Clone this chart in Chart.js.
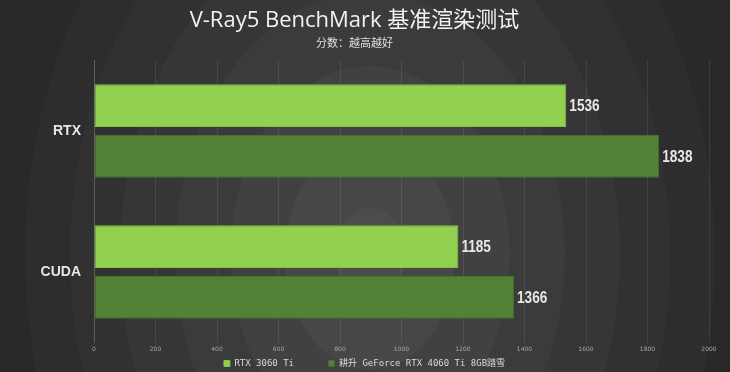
<!DOCTYPE html>
<html>
<head>
<meta charset="utf-8">
<script src="https://cdn.jsdelivr.net/npm/chart.js@4"></script>
<style>
    html, body { margin: 0; padding: 0; background: #292929; }
    #wrap { width: 730px; height: 372px; position: relative; }
</style>
</head>
<body>
<div id="wrap"><canvas id="benchChart" width="730" height="372"></canvas></div>
<script>
// 数据
const categories = ["RTX", "CUDA"];
const seriesNames = ["RTX 3060 Ti", "耕升 GeForce RTX 4060 Ti 8GB踏雪"];
const rtx3060Ti = [1536, 1185];
const rtx4060TiTaxue = [1838, 1366];
const xMin = 0;
const xMax = 2000;
const xStep = 200;

// 背景同心圆
const ringBackground = {
    id: "ringBackground",
    beforeDraw(chart) {
        const { ctx, width, height } = chart;
        ctx.save();
        ctx.fillStyle = "#292929";
        ctx.fillRect(0, 0, width, height);
        const rings = [
            [345, "#2d2d2d"],
            [300, "#313131"],
            [250, "#363636"],
            [195, "#3b3b3b"],
            [140, "#414141"],
            [85, "#474747"],
            [35, "#4c4c4c"]
        ];
        rings.forEach(([r, c]) => {
            ctx.beginPath();
            ctx.ellipse(370, 255, r, r * 1.35, 0, 0, Math.PI * 2);
            ctx.fillStyle = c;
            ctx.fill();
        });
        ctx.restore();
    }
};

// 图例整体居中到画布中线
const legendShift = {
    id: "legendShift",
    afterLayout(chart) {
        if (!chart.legend) return;
        chart.legend.left += 10;
        chart.legend.right += 10;
    }
};

// 柱末端数值（窄体）
const valueLabels = {
    id: "valueLabels",
    afterDatasetsDraw(chart) {
        const { ctx } = chart;
        ctx.save();
        ctx.font = "bold 16px 'Liberation Sans', Arial, sans-serif";
        ctx.fillStyle = "#e8e8e8";
        ctx.textAlign = "left";
        ctx.textBaseline = "middle";
        chart.data.datasets.forEach((ds, i) => {
            chart.getDatasetMeta(i).data.forEach((bar, j) => {
                ctx.save();
                ctx.translate(bar.x + 3, bar.y + 1);
                ctx.scale(0.85, 1);
                ctx.fillText(ds.data[j], 0, 0);
                ctx.restore();
            });
        });
        ctx.restore();
    }
};

new Chart(document.getElementById("benchChart"), {
    type: "bar",
    data: {
        labels: categories,
        datasets: [{
            label: seriesNames[0],
            data: rtx3060Ti,
            backgroundColor: "#92d050",
            borderColor: "#82bf45",
            borderWidth: 1,
            borderSkipped: false,
            categoryPercentage: 0.72,
            barPercentage: 0.843
        }, {
            label: seriesNames[1],
            data: rtx4060TiTaxue,
            backgroundColor: "#538135",
            borderColor: "#44702b",
            borderWidth: 1,
            borderSkipped: false,
            categoryPercentage: 0.72,
            barPercentage: 0.843
        }]
    },
    options: {
        indexAxis: "y",
        responsive: false,
        animation: false,
        layout: { padding: { left: 0, right: 21, top: 0, bottom: -6 } },
        scales: {
            x: {
                min: xMin,
                max: xMax,
                ticks: {
                    stepSize: xStep,
                    color: "#a6a6a6",
                    font: { size: 6, family: "'DejaVu Sans', sans-serif" },
                    padding: 3,
                    callback: v => String(v)
                },
                grid: { color: "rgba(255,255,255,0.09)", drawTicks: false },
                border: { display: false },
                afterFit(scale) { scale.height = 14.5; }
            },
            y: {
                ticks: {
                    color: "#e6e6e6",
                    font: { size: 14, weight: "bold", family: "'Liberation Sans', Arial, sans-serif" },
                    padding: 13
                },
                grid: { display: false, drawTicks: false },
                border: { color: "#5e5e5e", width: 1 },
                afterFit(scale) { scale.width = 94; }
            }
        },
        plugins: {
            title: {
                display: true,
                text: "V-Ray5 BenchMark 基准渲染测试",
                color: "#f2f2f2",
                font: { size: 22, weight: "normal", family: "'Open Sans', 'Noto Sans CJK SC', sans-serif" },
                padding: { top: 8, bottom: 0 }
            },
            subtitle: {
                display: true,
                text: "分数：越高越好",
                color: "#e0e0e0",
                font: { size: 11, family: "'Noto Sans CJK SC', sans-serif" },
                padding: { top: 2, bottom: 11 }
            },
            legend: {
                position: "bottom",
                labels: {
                    color: "#d9d9d9",
                    boxWidth: 6,
                    boxHeight: 6,
                    padding: 2,
                    font: { size: 9, family: "'DejaVu Sans Mono', 'Noto Sans CJK SC', monospace" },
                    generateLabels(chart) {
                        const items = Chart.defaults.plugins.legend.labels.generateLabels(chart);
                        items.forEach((it, i) => {
                            if (i < items.length - 1) it.text = it.text + "      ";
                        });
                        return items;
                    }
                }
            },
            tooltip: { enabled: false }
        }
    },
    plugins: [ringBackground, legendShift, valueLabels]
});
</script>
</body>
</html>
